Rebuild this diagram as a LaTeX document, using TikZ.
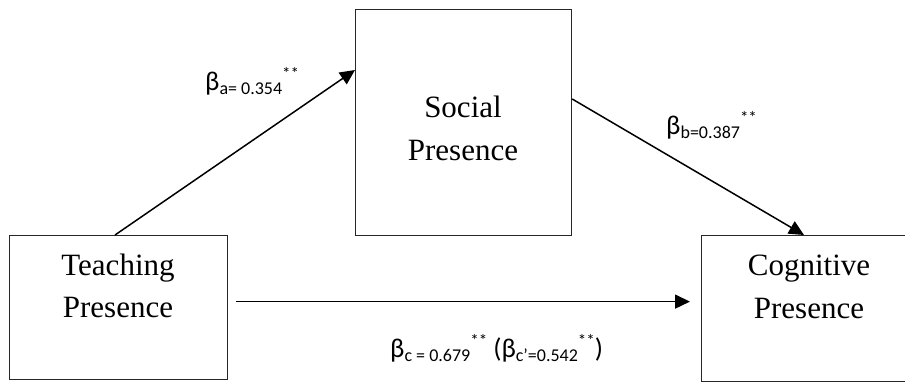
\documentclass[tikz,border=0pt]{standalone}
\usepackage{fontspec}
\setmainfont{Liberation Serif}
\newfontfamily\labfont{Carlito}
\usetikzlibrary{arrows.meta}
\newcommand\betalab[1]{{\fontsize{27pt}{27pt}\selectfont β}\raisebox{-4pt}{\fontsize{18pt}{18pt}\selectfont #1}\raisebox{11pt}{\fontsize{17pt}{17pt}\selectfont **}}
\begin{document}
\begin{tikzpicture}[x=1pt,y=-1pt,
  box/.style={draw=black!85, line width=1.2pt, anchor=north west, inner sep=0pt},
  boxtext/.style={anchor=base, inner sep=0pt, font=\fontsize{31pt}{31pt}\selectfont},
  lab/.style={anchor=base west, inner sep=0pt, font=\labfont},
  conn/.style={line width=1.5pt, -{Triangle[length=15pt,width=14pt]}}]
\fill[white] (0,0) rectangle (905,391);
\useasboundingbox (0,0) rectangle (905,391);
% boxes
\node[box, minimum width=218pt, minimum height=144pt] (tp) at (9,235) {};
\node[box, minimum width=216pt, minimum height=226pt] (sp) at (355,9) {};
\node[box, minimum width=217pt, minimum height=146pt] (cp) at (701,235) {};
% box texts
\node[boxtext] (tp1) at (118,275) {Teaching};
\node[boxtext] (tp2) at (118,317) {Presence};
\node[boxtext] (sp1) at (463,117) {Social};
\node[boxtext] (sp2) at (463,160) {Presence};
\node[boxtext] (cp1) at (809,275) {Cognitive};
\node[boxtext] (cp2) at (809,318) {Presence};
% connectors
\coordinate (hs) at ([xshift=8pt,yshift=6pt]tp.east);
\coordinate (he) at ([xshift=-11pt,yshift=7pt]cp.west);
\draw[conn] ([xshift=106pt]tp.north west) -- ([yshift=-61pt]sp.north west);
\draw[conn] ([yshift=-90pt]sp.north east) -- ([xshift=103pt]cp.north west);
\draw[conn] (hs) -- (he);
% labels
\node[lab] (la) at (205,90) {\betalab{a= 0.354}};
\node[lab] (lb) at (666,134) {\betalab{b=0.387}};
\node[lab] (lc) at (390,357) {\betalab{c = 0.679}{\fontsize{27pt}{27pt}\selectfont{} (}\betalab{c’=0.542}{\fontsize{27pt}{27pt}\selectfont )}};
\end{tikzpicture}
\end{document}
